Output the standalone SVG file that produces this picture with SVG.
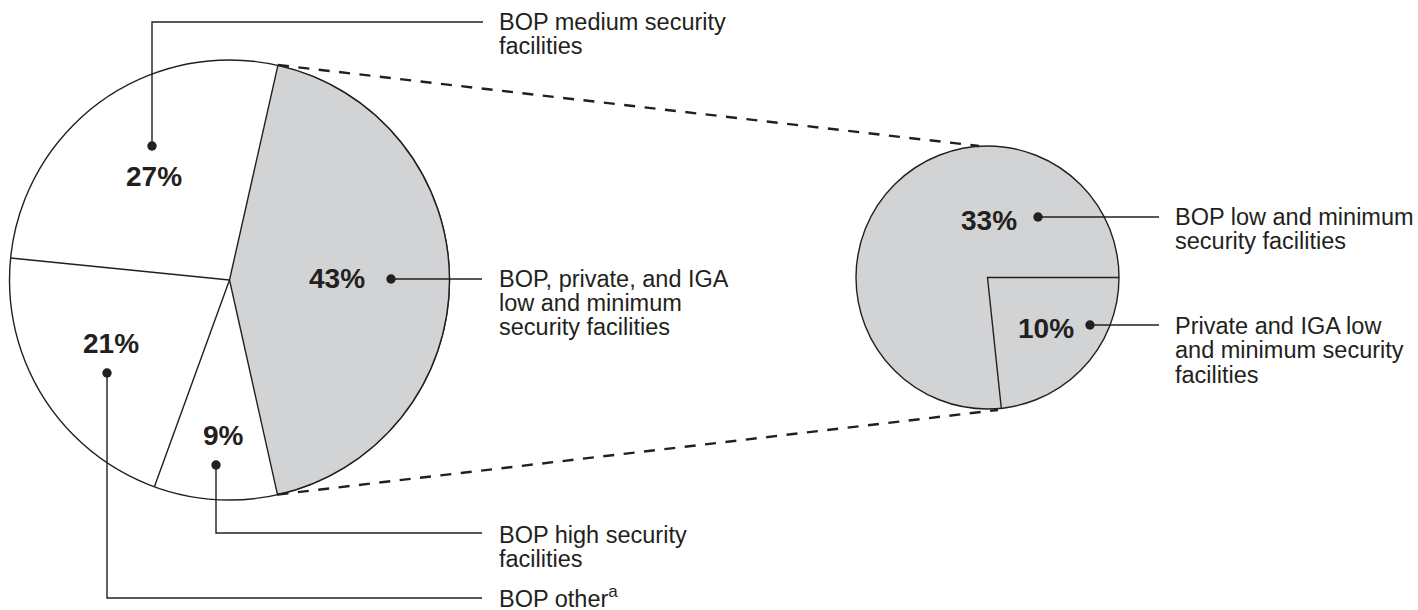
<svg xmlns="http://www.w3.org/2000/svg" width="1418" height="610" viewBox="0 0 1418 610">
<style>
.pie{stroke:#231f20;stroke-width:1.4;}
.div{stroke:#231f20;stroke-width:1.4;fill:none;}
.lead{stroke:#231f20;stroke-width:1.4;fill:none;}
.dash{stroke:#231f20;stroke-width:2.4;stroke-dasharray:11 9.5;fill:none;}
.dot{fill:#231f20;}
.pct{font-family:"Liberation Sans",Arial,sans-serif;font-weight:bold;font-size:28px;fill:#231f20;}
.lbl{font-family:"Liberation Sans",Arial,sans-serif;font-size:23.5px;fill:#231f20;}
</style>
<rect width="1418" height="610" fill="#ffffff"/>
<g id="big-pie">
  <circle class="pie" cx="229.5" cy="280" r="220" fill="#ffffff"/>
  <path class="pie" d="M229.5,280 L277.9,65.4 A220,220 0 0 1 277.5,494.7 Z" fill="#d1d3d4"/>
  <path class="div" d="M229.5,280 L10.6,258 M229.5,280 L154.4,486.8"/>
</g>
<g id="small-pie">
  <circle class="pie" cx="987.5" cy="277.5" r="131.5" fill="#d1d3d4"/>
  <path class="div" d="M1119,277.5 L987.5,277.5 L1001.3,408.3"/>
</g>
<g id="connectors">
  <path class="dash" d="M278,65 L979,146"/>
  <path class="dash" d="M277.5,494.5 L998,410"/>
  <path class="lead" d="M152,146 V22 H483"/>
  <path class="lead" d="M391,279 H482"/>
  <path class="lead" d="M107,373 V598 H482"/>
  <path class="lead" d="M216,465 V533 H482"/>
  <path class="lead" d="M1038,217 H1159"/>
  <path class="lead" d="M1090,325 H1159"/>
  <circle class="dot" cx="152" cy="146" r="4.7"/>
  <circle class="dot" cx="391" cy="279" r="4.7"/>
  <circle class="dot" cx="107" cy="373" r="4.7"/>
  <circle class="dot" cx="216" cy="465" r="4.7"/>
  <circle class="dot" cx="1038" cy="217" r="4.7"/>
  <circle class="dot" cx="1090" cy="325" r="4.7"/>
</g>
<g id="slice-27">
  <text class="pct" x="126" y="186">27%</text>
</g>
<g id="slice-43">
  <text class="pct" x="309" y="288">43%</text>
</g>
<g id="slice-21">
  <text class="pct" x="83" y="353">21%</text>
</g>
<g id="slice-9">
  <text class="pct" x="203" y="445">9%</text>
</g>
<g id="slice-33">
  <text class="pct" x="961" y="230">33%</text>
</g>
<g id="slice-10">
  <text class="pct" x="1018" y="338">10%</text>
</g>
<g id="label-medium">
  <text class="lbl" x="499" y="30">BOP medium security</text>
  <text class="lbl" x="499" y="54">facilities</text>
</g>
<g id="label-lowmin-all">
  <text class="lbl" x="499" y="287">BOP, private, and IGA</text>
  <text class="lbl" x="499" y="311">low and minimum</text>
  <text class="lbl" x="499" y="335">security facilities</text>
</g>
<g id="label-high">
  <text class="lbl" x="499" y="543">BOP high security</text>
  <text class="lbl" x="499" y="567">facilities</text>
</g>
<g id="label-other">
  <text class="lbl" x="499" y="607">BOP other<tspan font-size="17" dy="-10">a</tspan></text>
</g>
<g id="label-bop-lowmin">
  <text class="lbl" x="1175" y="225">BOP low and minimum</text>
  <text class="lbl" x="1175" y="249">security facilities</text>
</g>
<g id="label-private">
  <text class="lbl" x="1175" y="334">Private and IGA low</text>
  <text class="lbl" x="1175" y="358">and minimum security</text>
  <text class="lbl" x="1175" y="383">facilities</text>
</g>
</svg>
